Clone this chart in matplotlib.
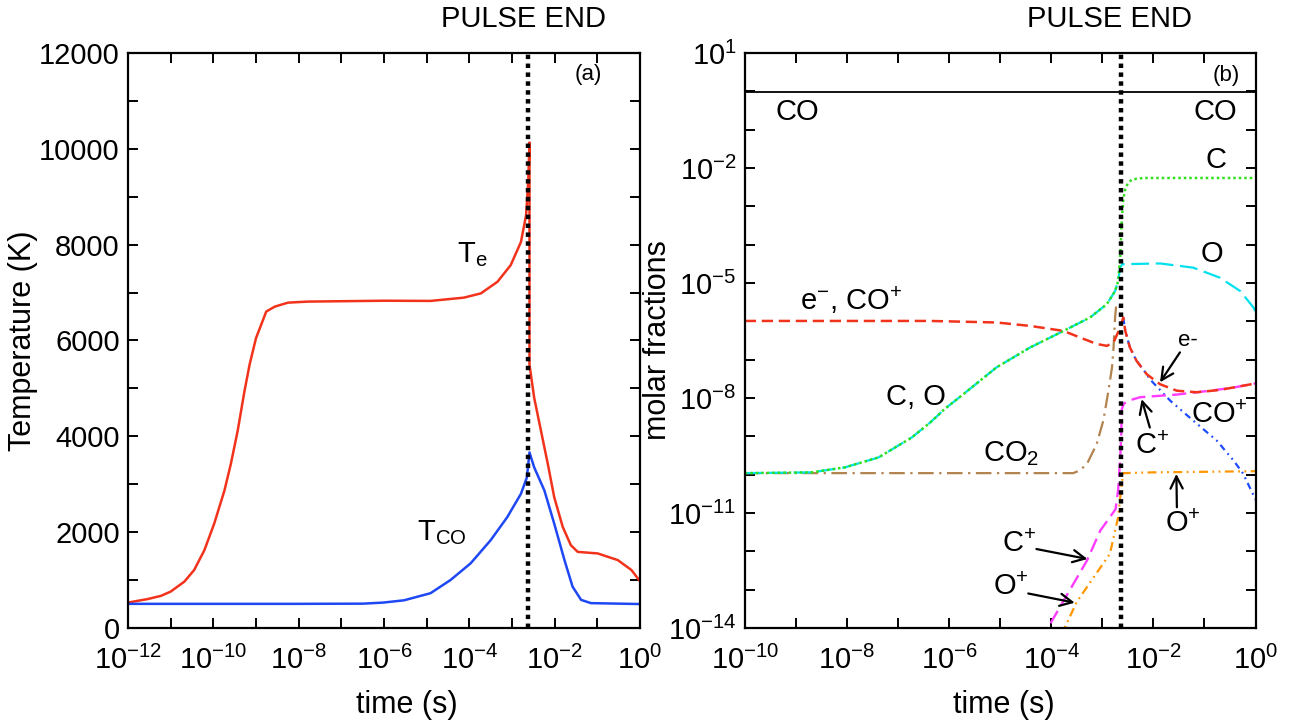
#!/usr/bin/env python3
"""
CO laser pulse: gas temperatures and species molar fractions vs time
"""

import numpy as np
import matplotlib
matplotlib.use('Agg')
import matplotlib.pyplot as plt
from matplotlib.ticker import (FixedLocator, NullFormatter,
                               LogFormatterSciNotation, MultipleLocator)

plt.rcParams['font.family'] = ['Liberation Sans', 'DejaVu Sans']
plt.rcParams['mathtext.fontset'] = 'custom'
plt.rcParams['mathtext.rm'] = 'Liberation Sans'
plt.rcParams['mathtext.it'] = 'Liberation Sans:italic'
plt.rcParams['mathtext.default'] = 'regular'

# end of the laser pulse (s)
PULSE_END = 2.35e-3

# --- (a) temperatures, time as log10(t/s) ---
te_logt = [-12, -11.55, -11.23, -11.0, -10.68, -10.45, -10.21, -9.98, -9.74,
           -9.59, -9.43, -9.27, -9.15, -9.0, -8.76, -8.56, -8.25, -7.78,
           -6.0, -4.91, -4.13, -3.73, -3.34, -3.03, -2.79, -2.67, -2.62,
           -2.59, -2.59, -2.48, -2.32, -2.16, -2.01, -1.81, -1.62, -1.46,
           -0.99, -0.52, -0.20, 0]
te_kelvin = [531, 602, 670, 760, 967, 1210, 1624, 2178, 2869, 3423, 4114,
             4944, 5498, 6050, 6604, 6707, 6790, 6812, 6830, 6826, 6894,
             6983, 7226, 7573, 8056, 8610, 9301, 10131, 5498, 4805, 4114,
             3423, 2730, 2108, 1728, 1589, 1556, 1417, 1210, 975]

tco_logt = [-12, -8, -6.5, -6.02, -5.53, -4.91, -4.44, -3.97, -3.50, -3.11,
            -2.79, -2.65, -2.59, -2.48, -2.24, -2.01, -1.77, -1.58, -1.38,
            -1.15, 0]
tco_kelvin = [504, 504, 508, 530, 578, 726, 1002, 1349, 1832, 2315, 2801,
              3145, 3664, 3353, 2869, 2178, 1417, 863, 587, 519, 500]

# --- (b) molar fractions, time and fraction as log10 ---
co_logt = [-10, 0]
co_logx = [-0.01, -0.01]

# C and O coincide until the end of the pulse
c_logt = [-10, -9.3, -8.69, -8.04, -7.38, -6.73, -6.37, -6.08, -5.72, -5.07,
          -4.41, -3.76, -3.24, -2.91, -2.75, -2.69, -2.65, -2.62, -2.59,
          -2.55, -2.50, -2.42, -2.2, -1.5, 0]
c_logx = [-9.96, -9.95, -9.94, -9.81, -9.55, -9.03, -8.64, -8.28, -7.90,
          -7.20, -6.68, -6.25, -5.90, -5.55, -5.21, -4.95, -4.3, -3.4, -2.83,
          -2.55, -2.40, -2.30, -2.26, -2.26, -2.26]

o_logt = [-10, -9.3, -8.69, -8.04, -7.38, -6.73, -6.37, -6.08, -5.72, -5.07,
          -4.41, -3.76, -3.24, -2.91, -2.75, -2.69, -2.65, -2.61, -1.87,
          -1.22, -0.70, -0.30, -0.04, 0]
o_logx = [-9.96, -9.95, -9.94, -9.81, -9.55, -9.03, -8.64, -8.28, -7.90,
          -7.20, -6.68, -6.25, -5.90, -5.55, -5.21, -4.95, -4.6, -4.51,
          -4.49, -4.60, -4.86, -5.21, -5.64, -5.75]

# electrons; CO+ coincides with them during the pulse
e_logt = [-10, -6.37, -5.07, -4.41, -3.76, -3.44, -3.11, -2.91, -2.78, -2.65,
          -2.59, -2.55, -2.46, -2.33, -2.13, -1.87, -1.54, -1.15, -0.70, 0]
e_logx = [-5.99, -5.99, -6.03, -6.12, -6.25, -6.42, -6.59, -6.64, -6.55,
          -6.16, -5.90, -6.25, -6.68, -7.03, -7.38, -7.64, -7.81, -7.85,
          -7.79, -7.62]

coplus_logt = [-2.59, -2.55, -2.46, -2.33, -2.13, -2.07, -1.67, -1.22, -0.76,
               -0.43, -0.24, 0]
coplus_logx = [-5.90, -6.25, -6.68, -7.03, -7.38, -7.51, -8.07, -8.59, -9.11,
               -9.63, -9.98, -10.65]

cplus_logt = [-4.2, -4.02, -3.30, -3.04, -2.74, -2.69, -2.65, -2.63, -2.62,
              -2.58, -2.49, -2.26, -1.54, -0.89, -0.44, 0]
cplus_logx = [-14.35, -13.89, -12.24, -11.46, -10.9, -10.4, -9.6, -9.0, -8.3,
              -8.15, -8.07, -7.98, -7.91, -7.81, -7.73, -7.62]

oplus_logt = [-3.85, -3.76, -3.50, -2.85, -2.69, -2.62, -2.59, -2.0, 0]
oplus_logx = [-14.3, -14.06, -13.32, -12.06, -11.11, -10.24, -9.96, -9.94,
              -9.91]

co2_logt = [-10, -3.57, -3.44, -3.30, -3.11, -2.98, -2.88, -2.81, -2.78,
            -2.75, -2.72]
co2_logx = [-9.96, -9.96, -9.89, -9.72, -9.20, -8.59, -7.81, -7.20, -6.68,
            -5.90, -5.47]


def pw(vals):
    """log10 values -> linear"""
    return 10.0 ** np.asarray(vals, dtype=float)


def style_axes(ax):
    for sp in ax.spines.values():
        sp.set_linewidth(1.6)
    ax.tick_params(which='both', direction='in', top=True, right=True,
                   length=7, width=1.4, labelsize=21)
    ax.tick_params(axis='x', pad=13)
    ax.tick_params(axis='y', pad=6)


def pulse_marker(ax, text_x):
    ax.axvline(PULSE_END, color='black', lw=3.2, ls=(0, (1, 1)),
               dash_capstyle='butt', zorder=5)
    ax.text(text_x, 1.045, 'PULSE END', transform=ax.get_xaxis_transform(),
            ha='center', va='baseline', fontsize=21)


def arrow(ax, head, tail):
    ax.annotate('', xy=(10 ** head[0], 10 ** head[1]),
                xytext=(10 ** tail[0], 10 ** tail[1]),
                arrowprops=dict(arrowstyle='->', color='black', lw=1.6,
                                mutation_scale=22, shrinkA=0, shrinkB=0))


def draw_temperatures(ax):
    ax.plot(pw(te_logt), te_kelvin, color='#f2331c', lw=1.8)
    ax.plot(pw(tco_logt), tco_kelvin, color='#1f48f5', lw=1.8)

    ax.set_xscale('log')
    ax.set_xlim(1e-12, 1)
    ax.set_ylim(0, 12000)
    ax.xaxis.set_major_locator(FixedLocator(pw(np.arange(-12, 1, 2))))
    ax.xaxis.set_minor_locator(FixedLocator(pw(np.arange(-12, 1, 1))))
    ax.xaxis.set_major_formatter(LogFormatterSciNotation())
    ax.xaxis.set_minor_formatter(NullFormatter())
    ax.yaxis.set_major_locator(MultipleLocator(2000))
    ax.yaxis.set_minor_locator(MultipleLocator(1000))
    style_axes(ax)

    ax.set_xlabel('time (s)', fontsize=22)
    ax.set_ylabel('Temperature (K)', fontsize=22)
    ax.xaxis.set_label_coords(0.545, -0.108)
    ax.yaxis.set_label_coords(-0.176, 0.5)

    ax.text(10 ** -3.94, 7800, r'T$_{e}$', fontsize=21, ha='center', va='center')
    ax.text(10 ** -4.64, 2000, r'T$_{CO}$', fontsize=21, ha='center', va='center')
    ax.text(10 ** -1.22, 11550, '(a)', fontsize=16, ha='center', va='center')
    pulse_marker(ax, 10 ** -2.74)


def draw_fractions(ax):
    ax.plot(pw(co_logt), pw(co_logx), color='black', lw=1.3)
    ax.plot(pw(co2_logt), pw(co2_logx), color='#b2834f', lw=1.6,
            ls=(0, (7, 2.5, 1, 2.5)))
    ax.plot(pw(o_logt), pw(o_logx), color='#00e1ee', lw=1.6, ls=(0, (8, 3)))
    ax.plot(pw(c_logt), pw(c_logx), color='#2ee01a', lw=1.8, ls=(0, (1, 1.2)))
    ax.plot(pw(oplus_logt), pw(oplus_logx), color='#ff9500', lw=1.6,
            ls=(0, (4, 2, 0.8, 2, 0.8, 2)))
    ax.plot(pw(coplus_logt), pw(coplus_logx), color='#1f4cff', lw=1.6,
            ls=(0, (3, 2, 0.8, 2, 0.8, 2)))
    ax.plot(pw(cplus_logt), pw(cplus_logx), color='#ff3cff', lw=1.7,
            ls=(0, (6, 2.7)))
    ax.plot(pw(e_logt), pw(e_logx), color='#f2331c', lw=1.8, ls=(0, (4.5, 2.3)))

    ax.set_xscale('log')
    ax.set_yscale('log')
    ax.set_xlim(1e-10, 1)
    ax.set_ylim(1e-14, 1e1)
    ax.xaxis.set_major_locator(FixedLocator(pw(np.arange(-10, 1, 2))))
    ax.xaxis.set_minor_locator(FixedLocator(pw(np.arange(-10, 1, 1))))
    ax.yaxis.set_major_locator(FixedLocator(pw(np.arange(-14, 2, 3))))
    ax.yaxis.set_minor_locator(FixedLocator(pw(np.arange(-14, 2, 1))))
    for axis in (ax.xaxis, ax.yaxis):
        axis.set_major_formatter(LogFormatterSciNotation())
        axis.set_minor_formatter(NullFormatter())
    style_axes(ax)

    ax.set_xlabel('time (s)', fontsize=22)
    ax.set_ylabel('molar fractions', fontsize=22)
    ax.xaxis.set_label_coords(0.507, -0.108)
    ax.yaxis.set_label_coords(-0.14, 0.5)

    labels = [
        ('CO', -8.98, -0.55, 21), ('CO', -0.78, -0.55, 21),
        ('C', -0.78, -1.8, 21), ('O', -0.86, -4.24, 21),
        (r'e$^{-}$, CO$^{+}$', -7.92, -5.45, 21),
        ('C, O', -6.65, -7.97, 21), (r'CO$_{2}$', -4.79, -9.45, 21),
        ('(b)', -0.57, 0.42, 16), ('e-', -1.32, -6.51, 16),
        (r'CO$^{+}$', -0.70, -8.45, 21), (r'C$^{+}$', -2.03, -9.25, 21),
        (r'O$^{+}$', -1.42, -11.3, 21), (r'C$^{+}$', -4.62, -11.8, 21),
        (r'O$^{+}$', -4.79, -12.93, 21),
    ]
    for txt, lx, ly, fs in labels:
        ax.text(10 ** lx, 10 ** ly, txt, fontsize=fs, ha='center', va='center')

    arrow(ax, (-1.87, -7.59), (-1.48, -6.81))
    arrow(ax, (-2.23, -8.03), (-2.07, -8.77))
    arrow(ax, (-1.55, -9.98), (-1.54, -10.85))
    arrow(ax, (-3.29, -12.2), (-4.29, -11.94))
    arrow(ax, (-3.54, -13.34), (-4.45, -13.1))
    pulse_marker(ax, 10 ** -2.86)


def create_figure(out_file='out.png'):
    fig = plt.figure(figsize=(13.05, 7.24), dpi=100, facecolor='white')
    ax_a = fig.add_axes([0.0981, 0.1326, 0.3923, 0.7942])
    ax_b = fig.add_axes([0.5707, 0.1326, 0.3914, 0.7942])

    draw_temperatures(ax_a)
    draw_fractions(ax_b)

    fig.savefig(out_file, dpi=100, facecolor='white')
    plt.close(fig)
    print(f"[SAVED] {out_file}")


if __name__ == "__main__":
    create_figure()
